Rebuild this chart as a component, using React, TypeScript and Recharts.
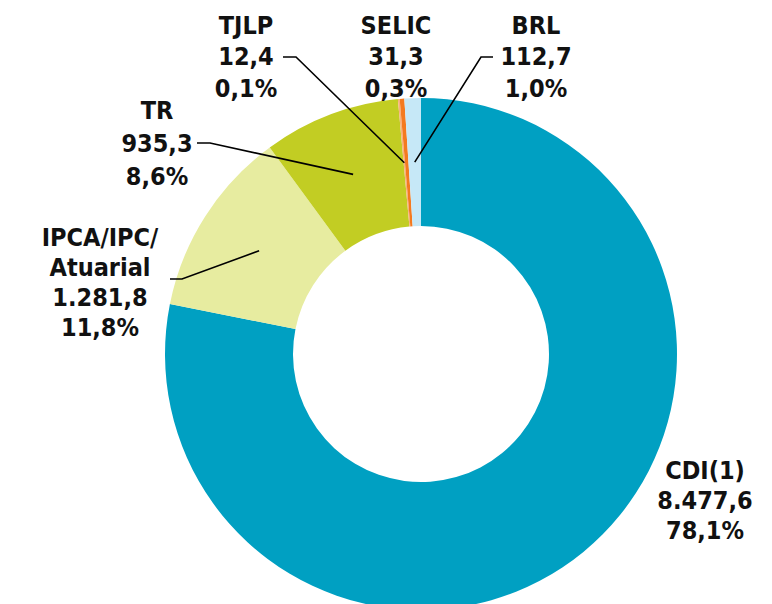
import React from 'react';
import { PieChart, Pie, Cell } from 'recharts';

const categories = [['CDI(1)'], ['IPCA/IPC/', 'Atuarial'], ['TR'], ['TJLP'], ['SELIC'], ['BRL']];
const amounts = [8477.6, 1281.8, 935.3, 12.4, 31.3, 112.7];
const amountLabels = ['8.477,6', '1.281,8', '935,3', '12,4', '31,3', '112,7'];
const shareLabels = ['78,1%', '11,8%', '8,6%', '0,1%', '0,3%', '1,0%'];
const colors = ['#00A0C2', '#E7ECA0', '#C2CD23', '#F8B07C', '#F47A20', '#C6E8F7'];

// where each label sits: text centre x, first line centre y, line step, leader elbow (optional)
const labelLayout = [
  { x: 705, y: 470, step: 30, elbow: null },
  { x: 100, y: 237, step: 30, elbow: [[182, 279], [170, 279]] },
  { x: 157, y: 110, step: 33, elbow: [[210, 143], [197, 143]] },
  { x: 246, y: 25, step: 31.5, elbow: [[296, 57], [283, 57]] },
  { x: 396, y: 25, step: 31.5, elbow: null },
  { x: 536, y: 25, step: 31.5, elbow: [[481, 57], [493, 57]] },
];

const data = amounts.map((v, i) => ({ name: categories[i].join(' '), value: v }));

const RADIAN = Math.PI / 180;

const renderLabel = (props: any) => {
  const { cx, cy, midAngle, innerRadius, outerRadius, index } = props;
  const lay = labelLayout[index];
  const r = (innerRadius + outerRadius) / 2;
  const px = cx + Math.cos(-midAngle * RADIAN) * r;
  const py = cy + Math.sin(-midAngle * RADIAN) * r;
  const lines = [...categories[index], amountLabels[index], shareLabels[index]];
  return (
    <g key={'lbl' + index}>
      {lay.elbow && (
        <polyline
          points={`${px},${py} ${lay.elbow.map((p) => p.join(',')).join(' ')}`}
          fill="none"
          stroke="#000"
          strokeWidth={1.6}
        />
      )}
      <text
        x={lay.x}
        textAnchor="middle"
        fontFamily="'DejaVu Sans Condensed', 'DejaVu Sans', sans-serif"
        fontWeight="bold"
        fontSize={25}
        fill="#111"
      >
        {lines.map((t, i) => (
          <tspan key={i} x={lay.x} y={lay.y + i * lay.step} dominantBaseline="central">
            {t}
          </tspan>
        ))}
      </text>
    </g>
  );
};

export default function App() {
  return (
    <div style={{ width: 772, height: 604, background: '#fff', overflow: 'hidden' }}>
      <style>{'body{margin:0}'}</style>
      <PieChart width={772} height={604} margin={{ top: 0, right: 0, bottom: 0, left: 0 }}>
        <Pie
          data={data}
          dataKey="value"
          cx={421}
          cy={354}
          innerRadius={128}
          outerRadius={256}
          startAngle={90}
          endAngle={-270}
          stroke="none"
          label={renderLabel}
          labelLine={false}
          isAnimationActive={false}
        >
          {data.map((d, i) => (
            <Cell key={d.name} fill={colors[i]} />
          ))}
        </Pie>
      </PieChart>
    </div>
  );
}
